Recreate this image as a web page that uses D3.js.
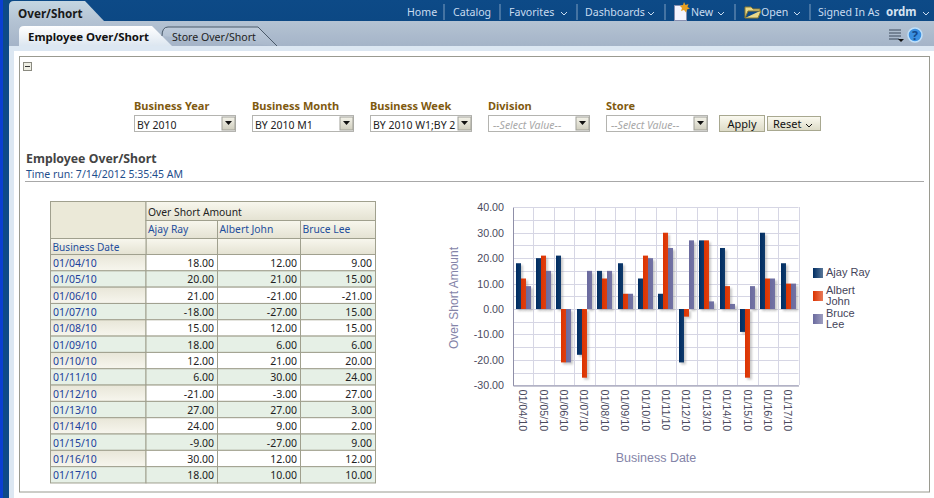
<!DOCTYPE html>
<html>
<head>
<meta charset="utf-8">
<script src="https://cdn.jsdelivr.net/npm/d3@7"></script>
<style>
html, body { margin: 0; padding: 0; background: #fff; overflow: hidden; }
svg { display: block; }
text { font-family: Tahoma, "Noto Sans", "Open Sans", sans-serif; }
.chart text { font-family: "Liberation Sans", Arial, sans-serif; }
</style>
</head>
<body>
<svg id="page" width="934" height="498"></svg>
<script>
var dates = ["01/04/10", "01/05/10", "01/06/10", "01/07/10", "01/08/10", "01/09/10", "01/10/10",
	"01/11/10", "01/12/10", "01/13/10", "01/14/10", "01/15/10", "01/16/10", "01/17/10"];
var ajayRay = [18, 20, 21, -18, 15, 18, 12, 6, -21, 27, 24, -9, 30, 18];
var albertJohn = [12, 21, -21, -27, 12, 6, 21, 30, -3, 27, 9, -27, 12, 10];
var bruceLee = [9, 15, -21, 15, 15, 6, 20, 24, 27, 3, 2, 9, 12, 10];
var seriesNames = ["Ajay Ray", "Albert John", "Bruce Lee"];
var seriesColors = ["#002d62", "#dc3300", "#6a6a9e"];
var yTicks = [40, 30, 20, 10, 0, -10, -20, -30];
var minorTicks = [35, 25, 15, 5, -5, -15, -25];
var navItems = ["Home", "Catalog", "Favorites", "Dashboards", "New", "Open", "Signed In As"];
var navX = [407, 453, 509, 585, 691, 761, 818];
var navSeps = [444, 500, 577, 665, 735, 810];
var filterLabels = ["Business Year", "Business Month", "Business Week", "Division", "Store"];
var filterValues = ["BY 2010", "BY 2010 M1", "BY 2010 W1;BY 2", "--Select Value--", "--Select Value--"];
var filterX = [134, 252, 370, 488, 606];

var svg = d3.select("#page");
var defs = svg.append("defs");

function gradient(id, stops, vertical) {
	var g = defs.append("linearGradient").attr("id", id)
		.attr("x1", 0).attr("y1", 0)
		.attr("x2", vertical ? 0 : 1).attr("y2", vertical ? 1 : 0);
	stops.forEach(function(c, i) {
		g.append("stop").attr("offset", i / (stops.length - 1)).attr("stop-color", c);
	});
}
gradient("topBar", ["#0d4a87", "#0c4884"], true);
gradient("subBar", ["#b4c3d3", "#a5b4c8"], true);
gradient("activeTab", ["#ffffff", "#dce6f0"], true);
gradient("idleTab", ["#bfccdb", "#a9b8cb"], true);
gradient("outerTab", ["#c4d6e2", "#b4c3d3"], true);
gradient("headCell", ["#f8f7ee", "#e4e2d2"], true);
gradient("dateCell", ["#e8e6d8", "#f7f6ee"], true);
gradient("button", ["#fbfaf0", "#dcdac6"], true);
gradient("comboBtn", ["#f4f3ea", "#cfcdbd"], true);
seriesColors.forEach(function(c, i) {
	gradient("swatch" + i, [c, d3.interpolateRgb(c, "#fff")(0.35)], false);
	gradient("bar" + i, [c, d3.interpolateRgb(c, "#fff")(0.06)], false);
});
var blur = defs.append("filter").attr("id", "shadow")
	.attr("x", "-50%").attr("y", "-10%").attr("width", "220%").attr("height", "130%");
blur.append("feGaussianBlur").attr("stdDeviation", 1);

function rect(parent, x, y, w, h, fill, stroke) {
	return parent.append("rect").attr("x", x).attr("y", y).attr("width", w).attr("height", h)
		.attr("fill", fill).attr("stroke", stroke || "none");
}
function label(parent, x, y, s, size, color, weight) {
	return parent.append("text").attr("x", x).attr("y", y).text(s)
		.attr("font-size", size).attr("fill", color).attr("font-weight", weight || "normal");
}
function chevron(parent, x, y, color) {
	parent.append("path").attr("d", "M" + x + " " + y + "l3 3l3 -3")
		.attr("fill", "none").attr("stroke", color);
}

// page chrome
rect(svg, 0, 0, 934, 498, "#fff");
rect(svg, 9, 46, 925, 452, "#dce7f2");
rect(svg, 14, 51, 920, 447, "#fff");
rect(svg, 3, 0, 931, 21, "url(#topBar)");
rect(svg, 3, 21, 931, 25, "url(#subBar)");
rect(svg, 3, 0, 6, 498, "#0d4a87");
rect(svg, 0, 0, 3, 498, "#0a3fd2");
svg.append("path").attr("d", "M9 21V6Q9 1 14 1H85L104 21Z").attr("fill", "url(#outerTab)");
label(svg, 18, 18, "Over/Short", 11.7, "#1a1a1a", "bold");
svg.append("path").attr("d", "M19 46V31Q19 26 24 26H152L172 46Z").attr("fill", "url(#activeTab)");
label(svg, 28, 41, "Employee Over/Short", 11.4, "#111", "bold");
svg.append("path").attr("d", "M162 36Q162 27 168 27H258L277 46")
	.attr("fill", "url(#idleTab)").attr("stroke", "#4a5a6a");
label(svg, 172, 41, "Store Over/Short", 10.6, "#222");

// nav bar
navItems.forEach(function(d, i) {
	label(svg, navX[i], 16, d, 10.6, "#c9dcf0");
});
navSeps.forEach(function(x) {
	svg.append("line").attr("x1", x).attr("x2", x).attr("y1", 4).attr("y2", 20).attr("stroke", "#7f9fc0");
});
label(svg, 886, 16, "ordm", 11.5, "#d4e3f2", "bold");
[561, 648, 718, 794, 923].forEach(function(x) { chevron(svg, x, 12, "#c9dcf0"); });
rect(svg, 674.5, 5.5, 12, 15, "#f4f4ff", "#8890b0");
svg.append("path").attr("d", "M684 2l1.5 3l3 -1l-1 3l2.5 1.5l-3 1l-1 3l-2 -2.5l-3 1l1 -3l-2 -2l3 -1Z").attr("fill", "#e8a020");
svg.append("path").attr("d", "M745 18V7h6l2 2h7v2h-12l-3 7h13l3 -7h-1").attr("fill", "#e8d98a").attr("stroke", "#8a7a30");
// toolbar icons
[30, 33, 36, 39].forEach(function(y, i) {
	svg.append("line").attr("x1", 889).attr("x2", i == 3 ? 899 : 901).attr("y1", y).attr("y2", y).attr("stroke", "#3c4a5c");
});
svg.append("path").attr("d", "M898 39h6l-3 3Z").attr("fill", "#111");
svg.append("circle").attr("cx", 915).attr("cy", 35).attr("r", 7).attr("fill", "#3a8fe0").attr("stroke", "#bfe0fa").attr("stroke-width", 1.5);
label(svg, 915, 39.5, "?", 12.5, "#134a8c", "bold").attr("text-anchor", "middle");

// main panel
rect(svg, 19.5, 56.5, 910, 435.5, "#fff", "#9a9a90");
rect(svg, 23.5, 62.5, 8, 8, "#eeeee4", "#8a8a80");
svg.append("line").attr("x1", 25).attr("x2", 30).attr("y1", 66.5).attr("y2", 66.5).attr("stroke", "#333");

// filters
filterLabels.forEach(function(d, i) {
	var x = filterX[i];
	label(svg, x, 110, d, 11, "#7f5a10", "bold");
	rect(svg, x + 0.5, 115.5, 101, 16, "#fff", "#b4b4b0");
	var v = label(svg, x + 3, 129, filterValues[i], 10.5, i > 2 ? "#a8a8a8" : "#222");
	if (i > 2) v.attr("font-style", "italic").attr("x", x + 5);
	rect(svg, x + 88, 117, 13, 13, "url(#comboBtn)", "#a0a098");
	svg.append("path").attr("d", "M" + (x + 91) + " 121h7l-3.5 4Z").attr("fill", "#111");
});
rect(svg, 719.5, 115.5, 45, 16, "url(#button)", "#a8a890");
label(svg, 742, 128, "Apply", 11, "#111").attr("text-anchor", "middle");
rect(svg, 767.5, 116.5, 53, 14, "url(#button)", "#a8a890");
label(svg, 773, 128, "Reset", 11, "#111");
chevron(svg, 806, 124, "#111");

label(svg, 26, 163, "Employee Over/Short", 12.3, "#444", "bold");
label(svg, 26, 178, "Time run: 7/14/2012 5:35:45 AM", 10.5, "#1f4e8c");
svg.append("line").attr("x1", 25).attr("x2", 924).attr("y1", 181.5).attr("y2", 181.5).attr("stroke", "#a8a8a8");

// pivot table
var colX = [50.5, 146, 217.5, 300.5, 375.5];
var rowY = d3.range(dates.length + 1).map(function(i) { return 254.5 + i * 16.32; });
var table = svg.append("g");
var border = "#a0a08e";
// d3 formats negatives with a true minus, the reference uses a hyphen
var fmt = function(v) { return d3.format(".2f")(v).replace("\u2212", "-"); };
rect(table, colX[0], 201.5, colX[1] - colX[0], 37, "#ebe9d8", border);
rect(table, colX[1], 201.5, colX[4] - colX[1], 19, "url(#headCell)", border);
label(table, colX[1] + 2, 216, "Over Short Amount", 10.3, "#222");
seriesNames.forEach(function(d, i) {
	rect(table, colX[i + 1], 220.5, colX[i + 2] - colX[i + 1], 18, "url(#headCell)", border);
	rect(table, colX[i + 1], 238.5, colX[i + 2] - colX[i + 1], 16, "url(#headCell)", border);
	label(table, colX[i + 1] + 2, 233, d, 10.3, "#1f4e9c");
});
rect(table, colX[0], 238.5, colX[1] - colX[0], 16, "url(#headCell)", border);
label(table, 52.5, 251, "Business Date", 10.1, "#1f4e9c");
dates.forEach(function(d, i) {
	var y = rowY[i], h = rowY[i + 1] - y;
	var vals = [ajayRay[i], albertJohn[i], bruceLee[i]];
	rect(table, colX[0], y, colX[1] - colX[0], h, i % 2 ? "#e6f0e6" : "url(#dateCell)", border);
	label(table, 53, y + 12.5, d, 10.5, "#1c3f9c");
	vals.forEach(function(v, j) {
		rect(table, colX[j + 1], y, colX[j + 2] - colX[j + 1], h, i % 2 ? "#e6f0e6" : "#fff", border);
		label(table, colX[j + 2] - 3.5, y + 12.5, fmt(v), 10.5, "#222").attr("text-anchor", "end");
	});
});

// bar chart
var chart = svg.append("g").attr("class", "chart");
var x = d3.scaleBand().domain(dates).range([513, 798.5]);
var inner = d3.scaleBand().domain(seriesNames).range([0, 15]);
var y = d3.scaleLinear().domain([-30, 40]).range([385.3, 207.3]);

var grid = chart.append("g").attr("stroke", "#d6d6e4").attr("fill", "none");
grid.selectAll("line.h").data(yTicks.concat(minorTicks)).enter().append("line").attr("class", "h")
	.attr("x1", 513).attr("x2", 798.5)
	.attr("y1", function(d) { return Math.round(y(d)) + 0.5; })
	.attr("y2", function(d) { return Math.round(y(d)) + 0.5; });
grid.selectAll("line.v").data(dates.slice(1).concat(["end"])).enter().append("line").attr("class", "v")
	.attr("x1", function(d, i) { return Math.round(513 + (i + 1) * x.step()) + 0.5; })
	.attr("x2", function(d, i) { return Math.round(513 + (i + 1) * x.step()) + 0.5; })
	.attr("y1", 207).attr("y2", 385);

function barLeft(s, i) {
	return Math.round(x(dates[i]) + 2.7) + inner(seriesNames[s]);
}
[ajayRay, albertJohn, bruceLee].forEach(function(values, s) {
	chart.append("g").attr("filter", "url(#shadow)").attr("fill", "#888").attr("opacity", 0.45)
		.selectAll("rect").data(values).enter().append("rect")
		.attr("x", function(d, i) { return barLeft(s, i) + 2; })
		.attr("y", function(d) { return Math.min(y(d), y(0)) + 2; })
		.attr("width", inner.bandwidth())
		.attr("height", function(d) { return Math.abs(y(d) - y(0)); });
});
[ajayRay, albertJohn, bruceLee].forEach(function(values, s) {
	chart.append("g").attr("fill", "url(#bar" + s + ")")
		.selectAll("rect").data(values).enter().append("rect")
		.attr("x", function(d, i) { return barLeft(s, i); })
		.attr("y", function(d) { return Math.min(y(d), y(0)); })
		.attr("width", inner.bandwidth())
		.attr("height", function(d) { return Math.abs(y(d) - y(0)); });
});

var yAxis = chart.append("g").attr("transform", "translate(513,0)")
	.call(d3.axisLeft(y).tickValues(yTicks).tickFormat(fmt).tickSize(0).tickPadding(9));
var xAxis = chart.append("g").attr("transform", "translate(0,385.5)")
	.call(d3.axisBottom(x).tickSize(0).tickPadding(0));
yAxis.select(".domain").attr("stroke", "#8f8fa8");
xAxis.select(".domain").attr("stroke", "#8f8fa8");
yAxis.selectAll("text").attr("font-size", 10.7).attr("fill", "#4a4a5e").attr("font-family", null);
xAxis.selectAll("text").attr("font-size", 10.7).attr("fill", "#4a4a5e").attr("font-family", null)
	.attr("text-anchor", "start").attr("dy", null)
	.attr("transform", "translate(-4,4) rotate(90)");

label(chart, 0, 0, "Over Short Amount", 12, "#8484a8")
	.attr("text-anchor", "middle").attr("transform", "translate(458,298) rotate(-90)");
label(chart, 656, 462, "Business Date", 12.5, "#8484a8").attr("text-anchor", "middle");

// legend
var legendY = [268, 291, 314];
var legendLines = [["Ajay Ray"], ["Albert", "John"], ["Bruce", "Lee"]];
seriesNames.forEach(function(d, i) {
	rect(chart, 813, legendY[i], 10, 10, "url(#swatch" + i + ")");
	legendLines[i].forEach(function(t, k) {
		var base = legendLines[i].length > 1 ? legendY[i] + 3 + k * 11 : legendY[i] + 8;
		label(chart, 826, base, t, 11, "#44445a");
	});
});
</script>
</body>
</html>
